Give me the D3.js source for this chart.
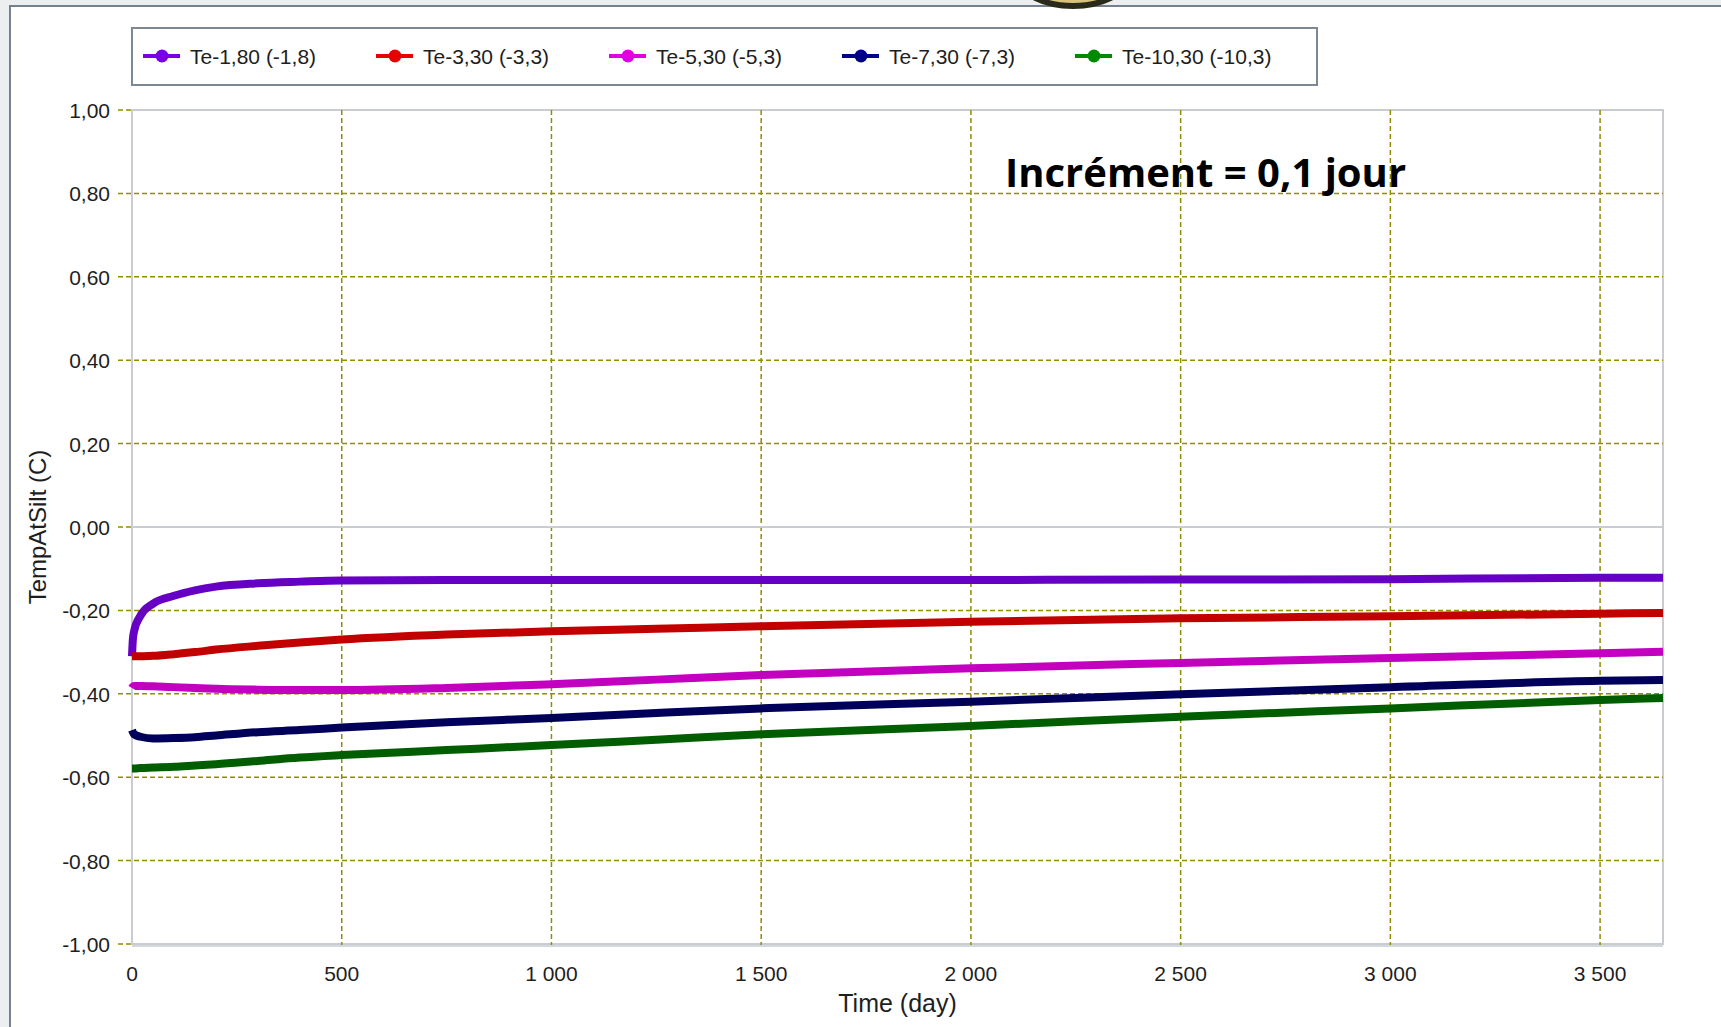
<!DOCTYPE html>
<html>
<head>
<meta charset="utf-8">
<script src="https://cdn.jsdelivr.net/npm/d3@7"></script>
<style>
  html, body { margin: 0; padding: 0; background: #eceeef; }
  svg { display: block; }
</style>
</head>
<body>
<div id="chart"></div>
<script>
// data
var days = [0, 2, 5, 20, 50, 100, 150, 200, 300, 400, 500, 750, 1000, 1250, 1500, 2000, 2500, 3000, 3500, 3650];
var te180 = [-0.310, -0.270, -0.250, -0.213, -0.184, -0.165, -0.152, -0.143, -0.135, -0.131, -0.128, -0.127, -0.127, -0.127, -0.127, -0.127, -0.126, -0.125, -0.122, -0.122];
var te330 = [-0.310, -0.310, -0.310, -0.310, -0.309, -0.305, -0.300, -0.294, -0.285, -0.277, -0.270, -0.258, -0.250, -0.244, -0.238, -0.227, -0.219, -0.214, -0.208, -0.206];
var te530 = [-0.386, -0.383, -0.381, -0.381, -0.382, -0.384, -0.386, -0.388, -0.390, -0.391, -0.391, -0.386, -0.377, -0.366, -0.355, -0.339, -0.326, -0.314, -0.303, -0.299];
var te730 = [-0.487, -0.492, -0.497, -0.503, -0.507, -0.506, -0.504, -0.500, -0.492, -0.487, -0.481, -0.468, -0.458, -0.446, -0.435, -0.419, -0.401, -0.384, -0.369, -0.367];
var te1030 = [-0.579, -0.579, -0.579, -0.578, -0.577, -0.575, -0.572, -0.569, -0.561, -0.553, -0.547, -0.535, -0.523, -0.510, -0.497, -0.477, -0.455, -0.435, -0.415, -0.410];

var seriesNames = ["Te-1,80 (-1,8)", "Te-3,30 (-3,3)", "Te-5,30 (-5,3)", "Te-7,30 (-7,3)", "Te-10,30 (-10,3)"];
var seriesValues = [te180, te330, te530, te730, te1030];
var lineColors = ["#6600c4", "#c20000", "#c400c0", "#00005a", "#005e00"];
var legendColors = ["#7a00e6", "#e80000", "#e000e0", "#000088", "#008a00"];

var xTicks = [0, 500, 1000, 1500, 2000, 2500, 3000, 3500];
var yTicks = [-1, -0.8, -0.6, -0.4, -0.2, 0, 0.2, 0.4, 0.6, 0.8, 1];

var W = 1721, H = 1027;
var plotL = 132, plotR = 1663, plotT = 110, plotB = 944;

var fr = d3.formatLocale({decimal: ",", thousands: " ", grouping: [3], currency: ["", " €"], minus: "-"});
var fmtX = fr.format(",.0f");
var fmtY = fr.format(".2f");

var svg = d3.select("#chart").append("svg")
	.attr("width", W)
	.attr("height", H);

// window frame
svg.append("rect").attr("x", 0).attr("y", 0).attr("width", W).attr("height", H).attr("fill", "#eceeef");
svg.append("rect").attr("x", 11).attr("y", 7).attr("width", W - 11).attr("height", H - 7).attr("fill", "#ffffff");
svg.append("path").attr("d", "M10,1027 L10,6 L1721,6")
	.attr("fill", "none").attr("stroke", "#74808c").attr("stroke-width", 2);
// bit of a logo peeking at the top
svg.append("ellipse").attr("cx", 1073).attr("cy", -20).attr("rx", 52).attr("ry", 26)
	.attr("fill", "#d8c27a").attr("stroke", "#2a2a1a").attr("stroke-width", 6);

var x = d3.scaleLinear().domain([0, 3650]).range([plotL, plotR]);
var y = d3.scaleLinear().domain([-1, 1]).range([plotB, plotT]);

// plot area
svg.append("rect")
	.attr("x", plotL).attr("y", plotT)
	.attr("width", plotR - plotL).attr("height", plotB - plotT)
	.attr("fill", "#ffffff")
	.attr("stroke", "#c9cdd2")
	.attr("stroke-width", 2);

var grid = svg.append("g");
var olive = "#8f8f00";

grid.selectAll("line.vgrid")
	.data(xTicks.filter(function(d) { return d > 0; }))
	.enter().append("line")
		.attr("class", "vgrid")
		.attr("x1", function(d) { return x(d); })
		.attr("x2", function(d) { return x(d); })
		.attr("y1", plotT)
		.attr("y2", plotB + 6)
		.attr("stroke", olive)
		.attr("stroke-width", 1.5)
		.attr("stroke-dasharray", "5,3");

grid.selectAll("line.hgrid")
	.data(yTicks.filter(function(d) { return d > -1 && d < 1 && Math.abs(d) > 1e-9; }))
	.enter().append("line")
		.attr("class", "hgrid")
		.attr("x1", plotL - 14)
		.attr("x2", plotR)
		.attr("y1", function(d) { return y(d); })
		.attr("y2", function(d) { return y(d); })
		.attr("stroke", olive)
		.attr("stroke-width", 1.5)
		.attr("stroke-dasharray", "5,3");

// tick marks at 0, 1 and -1
grid.selectAll("line.ytick")
	.data([-1, 0, 1])
	.enter().append("line")
		.attr("class", "ytick")
		.attr("x1", plotL - 14)
		.attr("x2", plotL)
		.attr("y1", function(d) { return y(d); })
		.attr("y2", function(d) { return y(d); })
		.attr("stroke", olive)
		.attr("stroke-width", 1.5)
		.attr("stroke-dasharray", "5,3");

// zero line
grid.append("line")
	.attr("x1", plotL).attr("x2", plotR)
	.attr("y1", y(0)).attr("y2", y(0))
	.attr("stroke", "#c9cdd2")
	.attr("stroke-width", 2);

svg.append("line")
	.attr("x1", plotL).attr("x2", plotR)
	.attr("y1", plotB + 2).attr("y2", plotB + 2)
	.attr("stroke", "#d4d7db").attr("stroke-width", 2);

// tick labels
var font = "'Liberation Sans', Arial, sans-serif";
svg.selectAll("text.ylab")
	.data(yTicks)
	.enter().append("text")
		.attr("class", "ylab")
		.attr("x", 110)
		.attr("y", function(d) { return y(d) + 8; })
		.attr("text-anchor", "end")
		.style("font-family", font)
		.style("font-size", "21px")
		.style("fill", "#1e1e1e")
		.text(function(d) { return fmtY(d); });

svg.selectAll("text.xlab")
	.data(xTicks)
	.enter().append("text")
		.attr("class", "xlab")
		.attr("x", function(d) { return x(d); })
		.attr("y", 981)
		.attr("text-anchor", "middle")
		.style("font-family", font)
		.style("font-size", "21px")
		.style("fill", "#1e1e1e")
		.text(function(d) { return fmtX(d); });

svg.append("text")
	.attr("x", (plotL + plotR) / 2)
	.attr("y", 1012)
	.attr("text-anchor", "middle")
	.style("font-family", font)
	.style("font-size", "25px")
	.style("fill", "#1e1e1e")
	.text("Time (day)");

svg.append("text")
	.attr("transform", "translate(46," + (plotT + plotB) / 2 + ") rotate(-90)")
	.attr("text-anchor", "middle")
	.style("font-family", font)
	.style("font-size", "24px")
	.style("fill", "#1e1e1e")
	.text("TempAtSilt (C)");

// series
var line = d3.line()
	.x(function(d, i) { return x(days[i]); })
	.y(function(d) { return y(d); })
	.curve(d3.curveMonotoneX);

svg.append("g").selectAll("path.series")
	.data(seriesValues)
	.enter().append("path")
		.attr("class", "series")
		.attr("d", line)
		.attr("fill", "none")
		.attr("stroke", function(d, i) { return lineColors[i]; })
		.attr("stroke-width", 8)
		.attr("stroke-linejoin", "round");

// annotation
svg.append("text")
	.attr("x", 1005)
	.attr("y", 187)
	.style("font-family", "'Open Sans', sans-serif")
	.style("font-weight", "bold")
	.style("font-size", "40px")
	.style("fill", "#000000")
	.text("Incrément = 0,1 jour");

// legend
var lg = svg.append("g");
lg.append("rect")
	.attr("x", 132).attr("y", 28)
	.attr("width", 1185).attr("height", 57)
	.attr("fill", "#ffffff")
	.attr("stroke", "#7c8894")
	.attr("stroke-width", 2);

var items = lg.selectAll("g.item")
	.data(seriesNames)
	.enter().append("g")
		.attr("class", "item")
		.attr("transform", function(d, i) { return "translate(" + (143 + i * 233) + ",56)"; });

items.append("line")
	.attr("x1", 0).attr("x2", 37)
	.attr("y1", 0).attr("y2", 0)
	.attr("stroke", function(d, i) { return legendColors[i]; })
	.attr("stroke-width", 4);
items.append("circle")
	.attr("cx", 19).attr("cy", 0).attr("r", 6.5)
	.attr("fill", function(d, i) { return legendColors[i]; });
items.append("text")
	.attr("x", 47)
	.attr("y", 8)
	.style("font-family", font)
	.style("font-size", "21px")
	.style("fill", "#1e1e1e")
	.text(function(d) { return d; });
</script>
</body>
</html>
